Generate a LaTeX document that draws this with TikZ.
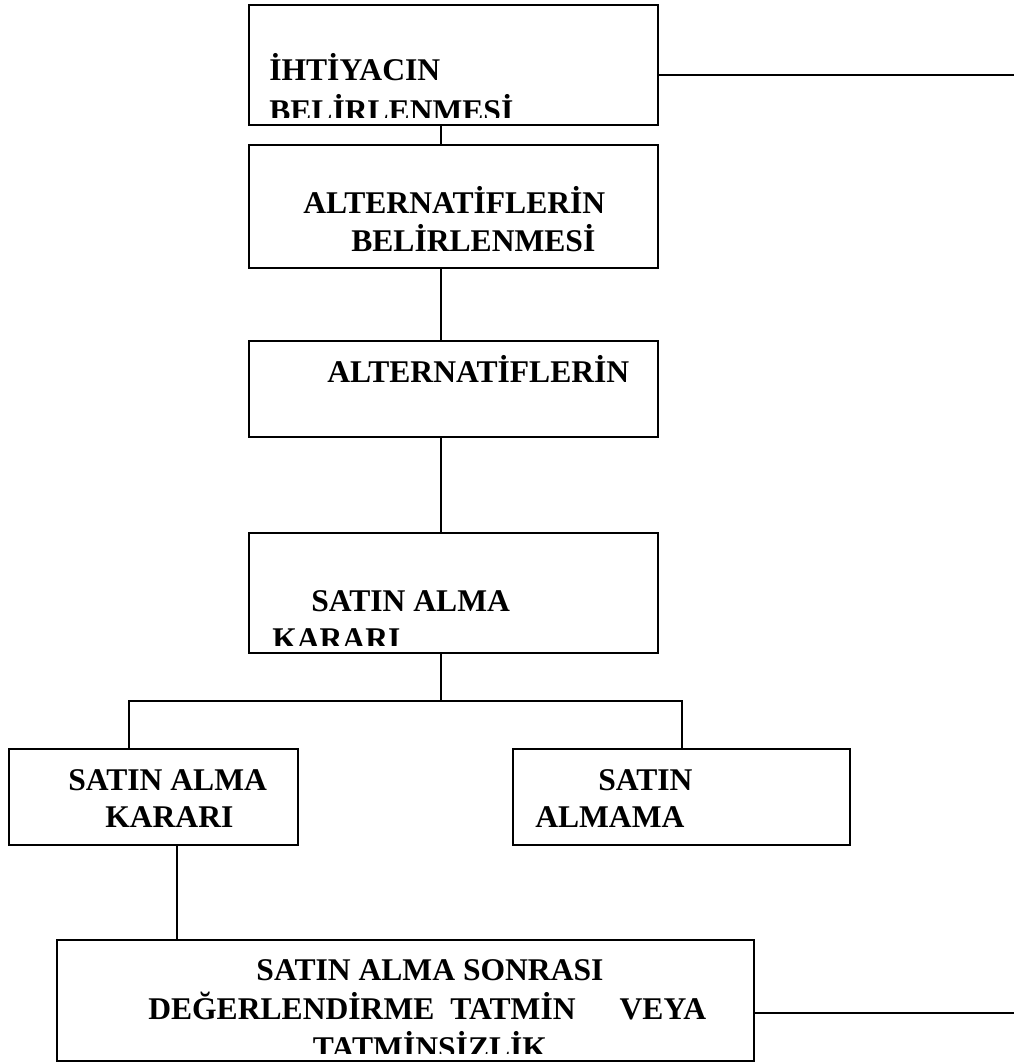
\documentclass[tikz,border=0pt]{standalone}
\usepackage{fontspec}
\setmainfont{Liberation Serif}
\begin{document}
\begin{tikzpicture}[x=0.75pt,y=-0.75pt,
  box/.style={draw, line width=1.4pt, inner sep=0pt, outer sep=0pt},
  link/.style={line width=1.3pt},
  txt/.style={anchor=base west, inner sep=0pt, font=\fontsize{23.7pt}{28pt}\selectfont\bfseries},
  ctxt/.style={anchor=base, inner sep=0pt, font=\fontsize{23.7pt}{28pt}\selectfont\bfseries}]
\useasboundingbox (0,0) rectangle (1014,1064);
% boxes
\node[box, minimum width=306.75pt, minimum height=90pt]    (b1) at (453.5,65) {};
\node[box, minimum width=306.75pt, minimum height=92.25pt] (b2) at (453.5,206.5) {};
\node[box, minimum width=306.75pt, minimum height=72pt]    (b3) at (453.5,389) {};
\node[box, minimum width=306.75pt, minimum height=90pt]    (b4) at (453.5,593) {};
\node[box, minimum width=216.75pt, minimum height=72pt]    (b5) at (153.5,797) {};
\node[box, minimum width=252.75pt, minimum height=72pt]    (b6) at (681.5,797) {};
\node[box, minimum width=522.75pt, minimum height=90.75pt] (b7) at (405.5,1000.5) {};
% connector helpers
\coordinate (spine) at (441,0);
\coordinate (split) at (441,701);
\coordinate (lft) at (129,701);
\coordinate (rgt) at (682,701);
\coordinate (low) at (177,0);
\coordinate (e1) at (1014,75);
\coordinate (e7) at (1014,1013);
\draw[link] (b1.south -| spine) -- (b2.north -| spine);
\draw[link] (b2.south -| spine) -- (b3.north -| spine);
\draw[link] (b3.south -| spine) -- (b4.north -| spine);
\draw[link] (b4.south -| spine) -- (split);
\draw[link] (b5.north -| lft) -- (lft) -- (rgt) -- (b6.north -| rgt);
\draw[link] (b5.south -| low) -- (b7.north -| low);
\draw[link] (b1.east |- e1) -- (e1);
\draw[link] (b7.east |- e7) -- (e7);
% texts
\begin{scope}
  \clip (251,7) rectangle (656,117);
  \node[txt] (t1a) at (269,80) {İHTİYACIN};
  \node[txt] (t1b) at (269,121) {BELİRLENMESİ};
\end{scope}
\node[txt] (t2a) at (303,213) {ALTERNATİFLERİN};
\node[txt] (t2b) at (351,251) {BELİRLENMESİ};
\node[txt] (t3a) at (327,382) {ALTERNATİFLERİN};
\begin{scope}
  \clip (251,535) rectangle (656,645);
  \node[txt] (t4a) at (311,611) {SATIN ALMA};
  \node[txt] (t4b) at (272,649) {KARARI};
\end{scope}
\node[txt] (t5a) at (68,790) {SATIN ALMA};
\node[txt] (t5b) at (105,827) {KARARI};
\node[txt] (t6a) at (598,790) {SATIN};
\node[txt] (t6b) at (535,827) {ALMAMA};
\begin{scope}
  \clip (59,942) rectangle (752,1053);
  \node[ctxt] (t7a) at (430,980) {SATIN ALMA SONRASI};
  \node[txt] (t7b) at (148,1019) {DEĞERLENDİRME\hspace{12pt}TATMİN\hspace{33pt}VEYA};
  \node[ctxt] (t7c) at (430,1058) {TATMİNSİZLİK};
\end{scope}
\end{tikzpicture}
\end{document}
